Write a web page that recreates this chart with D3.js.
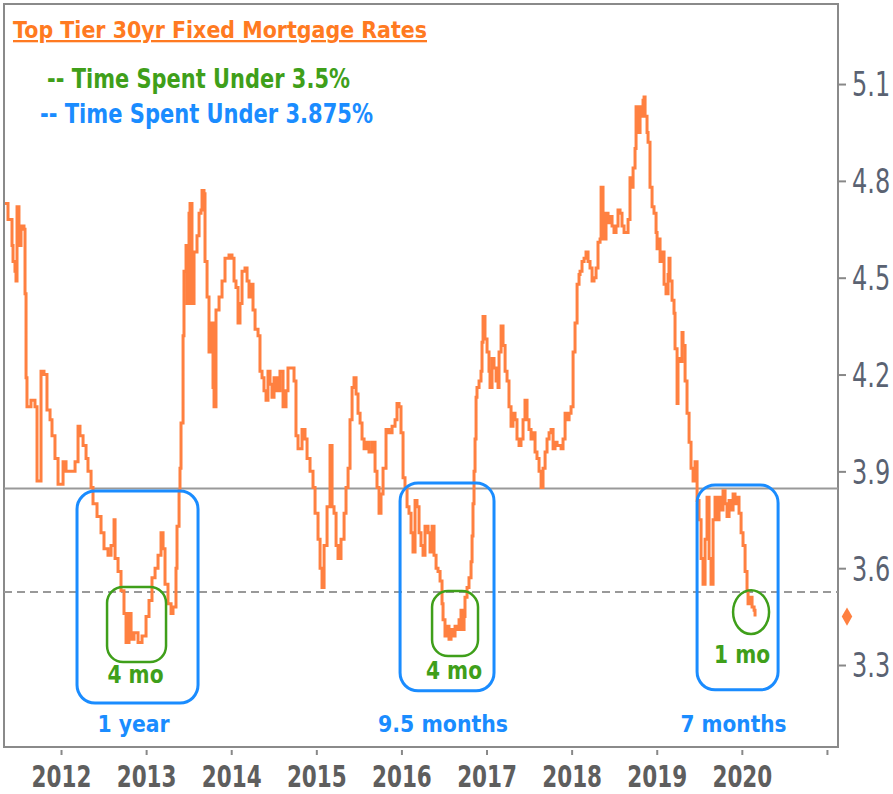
<!DOCTYPE html>
<html>
<head>
<meta charset="utf-8">
<script src="https://cdn.jsdelivr.net/npm/d3@7"></script>
<style>
  body { margin: 0; background: #fff; }
  svg { display: block; font-family: "DejaVu Sans", sans-serif; }
</style>
</head>
<body>
<svg width="893" height="794"></svg>
<script>
// weekly-ish readings, decimal year -> rate
const years = [
  2011.342, 2011.377, 2011.424, 2011.436, 2011.459, 2011.471, 2011.483, 2011.506, 2011.530, 2011.565,
  2011.577, 2011.589, 2011.600, 2011.647, 2011.694, 2011.718, 2011.741, 2011.765, 2011.800, 2011.835,
  2011.871, 2011.894, 2011.929, 2011.965, 2011.988, 2012.024, 2012.059, 2012.106, 2012.165, 2012.200,
  2012.223, 2012.259, 2012.294, 2012.317, 2012.353, 2012.376, 2012.423, 2012.470, 2012.505, 2012.552,
  2012.588, 2012.623, 2012.635, 2012.670, 2012.705, 2012.740, 2012.764, 2012.799, 2012.823, 2012.858,
  2012.905, 2012.952, 2012.999, 2013.034, 2013.069, 2013.105, 2013.140, 2013.175, 2013.199, 2013.222,
  2013.257, 2013.293, 2013.316, 2013.351, 2013.363, 2013.387, 2013.398, 2013.410, 2013.434, 2013.445,
  2013.469, 2013.481, 2013.504, 2013.516, 2013.539, 2013.563, 2013.598, 2013.622, 2013.645, 2013.657,
  2013.680, 2013.692, 2013.716, 2013.739, 2013.763, 2013.786, 2013.798, 2013.821, 2013.857, 2013.892,
  2013.927, 2013.974, 2014.009, 2014.033, 2014.056, 2014.080, 2014.103, 2014.127, 2014.162, 2014.186,
  2014.209, 2014.233, 2014.256, 2014.280, 2014.315, 2014.338, 2014.362, 2014.385, 2014.409, 2014.432,
  2014.456, 2014.479, 2014.503, 2014.538, 2014.573, 2014.609, 2014.644, 2014.667, 2014.703, 2014.738,
  2014.761, 2014.785, 2014.809, 2014.832, 2014.867, 2014.891, 2014.926, 2014.961, 2014.985, 2015.020,
  2015.044, 2015.067, 2015.091, 2015.126, 2015.161, 2015.185, 2015.208, 2015.232, 2015.255, 2015.290,
  2015.326, 2015.349, 2015.373, 2015.396, 2015.420, 2015.443, 2015.467, 2015.490, 2015.514, 2015.537,
  2015.561, 2015.584, 2015.619, 2015.655, 2015.690, 2015.713, 2015.737, 2015.760, 2015.784, 2015.819,
  2015.854, 2015.890, 2015.925, 2015.948, 2015.972, 2015.995, 2016.019, 2016.042, 2016.066, 2016.089,
  2016.113, 2016.136, 2016.160, 2016.183, 2016.207, 2016.230, 2016.254, 2016.277, 2016.313, 2016.336,
  2016.360, 2016.383, 2016.407, 2016.430, 2016.454, 2016.477, 2016.489, 2016.512, 2016.536, 2016.559,
  2016.583, 2016.606, 2016.630, 2016.653, 2016.677, 2016.700, 2016.712, 2016.736, 2016.747, 2016.771,
  2016.794, 2016.818, 2016.830, 2016.841, 2016.853, 2016.865, 2016.877, 2016.888, 2016.912, 2016.935,
  2016.947, 2016.959, 2016.982, 2017.006, 2017.029, 2017.041, 2017.065, 2017.088, 2017.112, 2017.135,
  2017.147, 2017.171, 2017.194, 2017.218, 2017.241, 2017.264, 2017.288, 2017.311, 2017.335, 2017.358,
  2017.382, 2017.405, 2017.429, 2017.452, 2017.476, 2017.499, 2017.523, 2017.546, 2017.570, 2017.593,
  2017.617, 2017.641, 2017.664, 2017.688, 2017.711, 2017.735, 2017.758, 2017.782, 2017.805, 2017.829,
  2017.852, 2017.876, 2017.899, 2017.923, 2017.946, 2017.970, 2017.993, 2018.017, 2018.040, 2018.064,
  2018.087, 2018.099, 2018.122, 2018.146, 2018.169, 2018.193, 2018.216, 2018.240, 2018.263, 2018.287,
  2018.310, 2018.334, 2018.346, 2018.369, 2018.381, 2018.404, 2018.428, 2018.451, 2018.475, 2018.498,
  2018.522, 2018.545, 2018.569, 2018.592, 2018.616, 2018.639, 2018.663, 2018.686, 2018.698, 2018.722,
  2018.745, 2018.757, 2018.780, 2018.792, 2018.804, 2018.827, 2018.839, 2018.851, 2018.863, 2018.886,
  2018.898, 2018.921, 2018.945, 2018.968, 2018.992, 2019.004, 2019.027, 2019.039, 2019.062, 2019.086,
  2019.109, 2019.133, 2019.144, 2019.156, 2019.180, 2019.203, 2019.215, 2019.239, 2019.250, 2019.274,
  2019.297, 2019.309, 2019.333, 2019.356, 2019.380, 2019.403, 2019.427, 2019.450, 2019.474, 2019.497,
  2019.521, 2019.544, 2019.568, 2019.591, 2019.615, 2019.638, 2019.662, 2019.685, 2019.709, 2019.732,
  2019.756, 2019.779, 2019.803, 2019.826, 2019.850, 2019.873, 2019.897, 2019.920, 2019.944, 2019.967,
  2019.991, 2020.014, 2020.038, 2020.061, 2020.073, 2020.097, 2020.120, 2020.144, 2020.155
]
const rates = [
  4.73, 4.68, 4.60, 4.55, 4.52, 4.49, 4.72, 4.60, 4.66, 4.65,
  4.45, 4.19, 4.10, 4.12, 4.10, 3.87, 3.87, 4.21, 4.20, 4.09,
  4.06, 4.01, 3.94, 3.86, 3.86, 3.93, 3.90, 3.90, 3.93, 4.04,
  4.01, 3.98, 3.94, 3.90, 3.85, 3.80, 3.76, 3.71, 3.66, 3.64,
  3.67, 3.75, 3.63, 3.59, 3.53, 3.46, 3.37, 3.46, 3.38, 3.40,
  3.37, 3.39, 3.45, 3.50, 3.57, 3.60, 3.64, 3.71, 3.66, 3.55,
  3.49, 3.46, 3.48, 3.60, 3.73, 3.84, 3.91, 4.05, 4.32, 4.52,
  4.60, 4.42, 4.70, 4.73, 4.42, 4.58, 4.63, 4.70, 4.71, 4.77,
  4.76, 4.55, 4.44, 4.27, 4.36, 4.16, 4.10, 4.40, 4.44, 4.49,
  4.56, 4.57, 4.56, 4.49, 4.47, 4.36, 4.42, 4.52, 4.53, 4.49,
  4.44, 4.48, 4.40, 4.34, 4.32, 4.21, 4.19, 4.15, 4.12, 4.21,
  4.17, 4.13, 4.19, 4.15, 4.21, 4.10, 4.15, 4.22, 4.22, 4.18,
  4.01, 3.97, 3.97, 4.03, 4.00, 3.94, 3.90, 3.85, 3.77, 3.69,
  3.60, 3.54, 3.67, 3.79, 3.98, 3.79, 3.77, 3.67, 3.63, 3.69,
  3.77, 3.85, 3.91, 4.06, 4.16, 4.19, 4.14, 4.08, 4.05, 4.00,
  3.97, 3.99, 3.96, 3.99, 3.90, 3.85, 3.77, 3.83, 3.91, 4.03,
  4.02, 4.04, 4.06, 4.11, 4.10, 4.02, 3.88, 3.85, 3.79, 3.77,
  3.71, 3.65, 3.81, 3.79, 3.71, 3.67, 3.64, 3.73, 3.71, 3.65,
  3.73, 3.64, 3.60, 3.59, 3.56, 3.49, 3.44, 3.39, 3.42, 3.38,
  3.41, 3.39, 3.42, 3.41, 3.44, 3.47, 3.41, 3.45, 3.51, 3.54,
  3.57, 3.62, 3.70, 3.80, 3.90, 4.00, 4.13, 4.16, 4.18, 4.21,
  4.30, 4.38, 4.31, 4.27, 4.21, 4.16, 4.25, 4.22, 4.18, 4.16,
  4.27, 4.35, 4.29, 4.21, 4.18, 4.10, 4.04, 4.08, 4.06, 4.00,
  3.98, 4.00, 4.06, 4.12, 4.06, 4.03, 4.00, 4.02, 3.96, 3.94,
  3.90, 3.85, 3.91, 3.96, 4.00, 4.02, 4.03, 3.97, 3.99, 3.98,
  3.98, 3.97, 4.00, 4.08, 4.06, 4.08, 4.10, 4.27, 4.36, 4.48,
  4.51, 4.52, 4.55, 4.56, 4.58, 4.55, 4.53, 4.49, 4.50, 4.53,
  4.61, 4.62, 4.78, 4.65, 4.62, 4.70, 4.67, 4.69, 4.66, 4.64,
  4.66, 4.71, 4.70, 4.66, 4.64, 4.64, 4.68, 4.81, 4.78, 4.84,
  4.90, 5.03, 4.99, 4.95, 5.03, 5.00, 5.05, 5.06, 5.00, 4.95,
  4.92, 4.78, 4.72, 4.70, 4.64, 4.59, 4.62, 4.55, 4.58, 4.48,
  4.45, 4.51, 4.56, 4.49, 4.43, 4.39, 4.28, 4.11, 4.25, 4.24,
  4.33, 4.29, 4.18, 4.08, 3.99, 3.91, 3.87, 3.93, 3.81, 3.75,
  3.63, 3.55, 3.69, 3.82, 3.63, 3.55, 3.75, 3.82, 3.75, 3.82,
  3.78, 3.84, 3.80, 3.76, 3.81, 3.78, 3.83, 3.80, 3.82, 3.77,
  3.71, 3.67, 3.59, 3.53, 3.49, 3.51, 3.48, 3.47, 3.45
]
const yearTicks = [2012, 2013, 2014, 2015, 2016, 2017, 2018, 2019, 2020, 2021]
const rateTicks = [3.3, 3.6, 3.9, 4.2, 4.5, 4.8, 5.1]
const upperLevel = 3.847   // solid line, drawn where the chart puts "3.875"
const lowerLevel = 3.526   // dashed line, "3.5"
const lastRate = 3.45

// spells under each level: [start, end, low, high]
const blueSpells = [
  [2012.188, 2013.610, 3.182, 3.839],
  [2015.984, 2017.088, 3.220, 3.864],
  [2019.474, 2020.426, 3.223, 3.858]
]
const greenSpells = [
  [2012.541, 2013.234, 3.309, 3.542],
  [2016.360, 2016.900, 3.328, 3.529],
  [2019.897, 2020.320, 3.396, 3.532]
]
const blueLabels = ["1 year", "9.5 months", "7 months"]
const greenLabels = ["4 mo", "4 mo", "1 mo"]

const orange = "#ff8040"
const blue = "#1a8cff"
const green = "#3f9f1a"

var svg = d3.select("svg")
var plot = { left: 4, right: 838, top: 4, bottom: 747 }

var x = d3.scaleLinear().domain([2011.33, 2021.13]).range([plot.left, plot.right])
var y = d3.scaleLinear().domain([3.046, 5.348]).range([plot.bottom, plot.top])

// frame
svg.append("rect")
  .attr("x", plot.left).attr("y", plot.top)
  .attr("width", plot.right - plot.left).attr("height", plot.bottom - plot.top)
  .attr("fill", "none").attr("stroke", "#8a8a8a").attr("stroke-width", 2)

// level lines
svg.append("line")
  .attr("x1", plot.left).attr("x2", plot.right)
  .attr("y1", y(upperLevel)).attr("y2", y(upperLevel))
  .attr("stroke", "#999").attr("stroke-width", 2)

svg.append("line")
  .attr("x1", plot.left).attr("x2", plot.right)
  .attr("y1", y(lowerLevel)).attr("y2", y(lowerLevel))
  .attr("stroke", "#999").attr("stroke-width", 2)
  .attr("stroke-dasharray", "8,5")

// rate line
var data = years.map((t, i) => ({ t: t, r: rates[i] }))

svg.append("path")
  .datum(data)
  .attr("fill", "none")
  .attr("stroke", orange)
  .attr("stroke-width", 3)
  .attr("d", d3.line().curve(d3.curveStepAfter).x(d => x(d.t)).y(d => y(d.r)))

// y axis on the right
var yAxis = svg.append("g")
  .attr("transform", `translate(${plot.right},0)`)
  .call(d3.axisRight(y).tickValues(rateTicks).tickSize(8).tickPadding(6).tickFormat(d3.format(".1f")))
  .attr("font-family", "DejaVu Sans")

yAxis.select(".domain").remove()
yAxis.selectAll("line").attr("stroke", "#888").attr("stroke-width", 2)
// tall narrow digits: stretch vertically
yAxis.selectAll("text")
  .attr("fill", "#5a6272")
  .attr("font-size", 24)
  .attr("dy", "0.36em")
  .attr("transform", "scale(1,1.38)")

// x axis
var xAxis = svg.append("g")
  .attr("transform", `translate(0,${plot.bottom + 3})`)
  .call(d3.axisBottom(x).tickValues(yearTicks).tickSize(5).tickFormat(d => d < 2021 ? d : ""))
  .attr("font-family", "DejaVu Sans")

xAxis.select(".domain").remove()
xAxis.selectAll("line").attr("stroke", "#888").attr("stroke-width", 2)
xAxis.selectAll("text")
  .attr("fill", "#5e5e5e")
  .attr("font-size", 21.5)
  .attr("font-weight", "bold")
  .attr("y", 27).attr("dy", 0)
  .attr("transform", "scale(1,1.38)")

// latest value marker
svg.append("path")
  .attr("d", d3.symbol(d3.symbolDiamond).size(95))
  .attr("transform", `translate(${plot.right + 9},${y(lastRate)})`)
  .attr("fill", orange)

// blue boxes
svg.selectAll(".blue-box")
  .data(blueSpells)
  .enter()
  .append("rect")
  .attr("class", "blue-box")
  .attr("x", d => x(d[0])).attr("y", d => y(d[3]))
  .attr("width", d => x(d[1]) - x(d[0])).attr("height", d => y(d[2]) - y(d[3]))
  .attr("rx", 18)
  .attr("fill", "none").attr("stroke", blue).attr("stroke-width", 3)

// green boxes, last one is round
svg.selectAll(".green-box")
  .data(greenSpells)
  .enter()
  .append("rect")
  .attr("class", "green-box")
  .attr("x", d => x(d[0])).attr("y", d => y(d[3]))
  .attr("width", d => x(d[1]) - x(d[0])).attr("height", d => y(d[2]) - y(d[3]))
  .attr("rx", (d, i) => i == 2 ? (x(d[1]) - x(d[0])) / 2 : 16)
  .attr("ry", (d, i) => i == 2 ? (y(d[2]) - y(d[3])) / 2 : 16)
  .attr("fill", "none").attr("stroke", green).attr("stroke-width", 2.5)

const greenGap = [21, 23, 29]

svg.selectAll(".green-label")
  .data(greenSpells)
  .enter()
  .append("text")
  .attr("class", "green-label")
  .attr("x", (d, i) => (x(d[0]) + x(d[1])) / 2 + (i == 2 ? -9 : -1))
  .attr("y", (d, i) => y(d[2]) + greenGap[i])
  .attr("text-anchor", "middle")
  .attr("font-size", 24).attr("font-weight", "bold")
  .attr("fill", green)
  .attr("textLength", 56).attr("lengthAdjust", "spacingAndGlyphs")
  .text((d, i) => greenLabels[i])

svg.selectAll(".blue-label")
  .data(blueSpells)
  .enter()
  .append("text")
  .attr("class", "blue-label")
  .attr("x", d => (x(d[0]) + x(d[1])) / 2 - 4)
  .attr("y", 732)
  .attr("text-anchor", "middle")
  .attr("font-size", 23).attr("font-weight", "bold")
  .attr("fill", blue)
  .attr("textLength", (d, i) => [72, 130, 106][i]).attr("lengthAdjust", "spacingAndGlyphs")
  .text((d, i) => blueLabels[i])

// title and legend
svg.append("text")
  .attr("x", 13).attr("y", 38)
  .attr("font-size", 23).attr("font-weight", "bold")
  .attr("fill", "#ff7a21")
  .attr("text-decoration", "underline")
  .attr("textLength", 414).attr("lengthAdjust", "spacingAndGlyphs")
  .text("Top Tier 30yr Fixed Mortgage Rates")

svg.append("text")
  .attr("x", 47).attr("y", 88)
  .attr("font-size", 26).attr("font-weight", "bold")
  .attr("fill", green)
  .attr("textLength", 303).attr("lengthAdjust", "spacingAndGlyphs")
  .text("-- Time Spent Under 3.5%")

svg.append("text")
  .attr("x", 40).attr("y", 123)
  .attr("font-size", 26).attr("font-weight", "bold")
  .attr("fill", blue)
  .attr("textLength", 333).attr("lengthAdjust", "spacingAndGlyphs")
  .text("-- Time Spent Under 3.875%")
</script>
</body>
</html>
